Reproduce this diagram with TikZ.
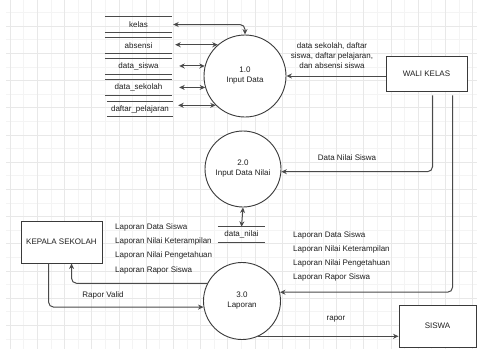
\documentclass[tikz,border=0pt]{standalone}
\usepackage{fontspec}
\setmainfont{Liberation Sans}
\usetikzlibrary{arrows.meta,calc}
\definecolor{txt}{HTML}{1F1F1F}
\definecolor{edge}{HTML}{3A3A3A}
\definecolor{arrc}{HTML}{4A4A4A}
\definecolor{gminor}{HTML}{F4F4F4}
\definecolor{gmajor}{HTML}{E8E8E8}
\tikzset{
  every node/.style={font=\fontsize{8}{10}\selectfont, text=txt},
  proc/.style={circle, draw=edge, line width=0.9pt, fill=white, align=center, inner sep=0pt},
  ent/.style={rectangle, draw=edge, line width=0.9pt, fill=white, align=center},
  store/.style={rectangle, draw=none, inner sep=0pt, minimum height=15pt},
  sline/.style={draw=arrc, line width=0.9pt},
  arr/.style={draw=arrc, line width=1pt, -{Stealth[length=5.5pt,width=5pt]}},
  darr/.style={draw=arrc, line width=1pt, {Stealth[length=5.5pt,width=5pt]}-{Stealth[length=5.5pt,width=5pt]}},
  lbl/.style={inner sep=0pt, align=center},
  gmin/.style={draw=gminor, line width=0.5pt},
  gmaj/.style={draw=gmajor, line width=0.6pt}
}
\begin{document}
\begin{tikzpicture}[x=1pt,y=-1pt]
\useasboundingbox (0,0) rectangle (477,349);
\fill[white] (0,0) rectangle (477,349);
% background grid
\foreach \i in {0,...,34} {\draw[gmin] ({10.1+13.6*\i},0) -- ++(0,349);}
\foreach \i in {0,...,25} {\draw[gmin] (6,{12.4+13.6*\i}) -- (477,{12.4+13.6*\i});}
\foreach \i in {0,...,17} {\draw[gmaj] ({10.1+27.2*\i},0) -- ++(0,349);}
\foreach \i in {-1,...,12} {\draw[gmaj] (6,{26+27.2*\i}) -- (477,{26+27.2*\i});}

% processes
\node[proc, minimum size=82pt] (c1) at (245,76) {1.0\\Input Data};
\node[proc, minimum size=76pt] (c2) at (243,169) {2.0\\Input Data Nilai};
\node[proc, minimum size=77pt] (c3) at (242,301) {3.0\\Laporan};

% entities
\node[ent, minimum width=81pt, minimum height=35pt] (wali) at (426.5,73.5) {WALI KELAS};
\node[ent, minimum width=81pt, minimum height=42pt] (kepala) at (61.5,242) {KEPALA SEKOLAH};
\node[ent, minimum width=77pt, minimum height=42pt] (siswa) at (437.5,326) {SISWA};

% data stores
\node[store, minimum width=67pt] (kelas) at (138.5,24.5) {kelas};
\node[store, minimum width=67pt] (absensi) at (138.5,45.5) {absensi};
\node[store, minimum width=67pt] (dsiswa) at (138.5,66.5) {data\_siswa};
\node[store, minimum width=67pt] (dsekolah) at (138.5,87.5) {data\_sekolah};
\node[store, minimum width=66pt, minimum height=14pt] (dpel) at (140,109) {daftar\_pelajaran};
\node[store, minimum width=47pt] (dnilai) at (241.5,234.5) {data\_nilai};
\foreach \s in {kelas,absensi,dsiswa,dsekolah,dpel,dnilai} {
  \draw[sline] (\s.north west) -- (\s.north east) (\s.south west) -- (\s.south east);
}

% store connectors
\draw[darr, rounded corners=5pt] ([xshift=1pt]kelas.east) -| (c1.north);
\draw[darr] ([xshift=3pt]absensi.east |- c1.131.9) -- (c1.131.9);
\draw[darr] ([xshift=7pt]dsiswa.east |- c1.166.6) -- (c1.166.6);
\draw[darr] ([xshift=7pt]dsekolah.east |- c1.196.3) -- (c1.196.3);
\draw[darr] ([xshift=5pt]dpel.east |- c1.225) -- (c1.225);
\draw[darr] (c2.south) -- (dnilai.north);

% wali kelas flows
\draw[arr] (wali.west |- c1.east) -- (c1.east);
\node[lbl] (lwali) at (332,56) {data sekolah, daftar\\siswa, daftar pelajaran,\\dan absensi siswa};
\coordinate (w1) at ([xshift=47pt,yshift=-4pt]wali.south west);
\coordinate (w2) at ([xshift=67pt,yshift=-4pt]wali.south west);
\draw[arr, rounded corners=5pt] (w1) |- (c2.-4.5);
\node[lbl] (lnilai) at (347,158) {Data Nilai Siswa};
\draw[arr, rounded corners=5pt] (w2) |- (c3.13.5);
\node[lbl, anchor=west] (r1) at (293,235) {Laporan Data Siswa};
\node[lbl, anchor=west] (r2) at (293,249) {Laporan Nilai Keterampilan};
\node[lbl, anchor=west] (r3) at (293,263) {Laporan Nilai Pengetahuan};
\node[lbl, anchor=west] (r4) at (293,277) {Laporan Rapor Siswa};

% kepala sekolah flows
\draw[arr, rounded corners=5pt] (c3.153.8) -| ([xshift=51pt]kepala.south west);
\node[lbl, anchor=west] (k1) at (115,227) {Laporan Data Siswa};
\node[lbl, anchor=west] (k2) at (115,241) {Laporan Nilai Keterampilan};
\node[lbl, anchor=west] (k3) at (115,255) {Laporan Nilai Pengetahuan};
\node[lbl, anchor=west] (k4) at (115,270) {Laporan Rapor Siswa};
\draw[arr, rounded corners=5pt] ([xshift=28pt]kepala.south west) |- (c3.189);
\node[lbl] (lvalid) at (103,295) {Rapor Valid};

% siswa
\draw[arr] (c3.-65) -- (siswa.west |- c3.-65);
\node[lbl] (lrapor) at (336,319) {rapor};
\end{tikzpicture}
\end{document}
